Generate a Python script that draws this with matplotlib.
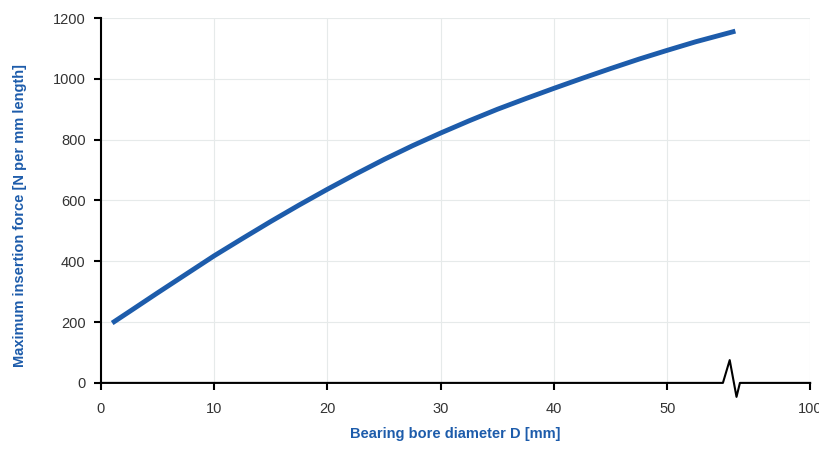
import matplotlib
matplotlib.use('Agg')
from matplotlib import pyplot as plt

# values
diameter = [1, 2.5, 5, 7.5, 10, 12.5, 15, 17.5, 20, 22.5, 25, 27.5, 30,
            32.5, 35, 37.5, 40, 42.5, 45, 47.5, 50, 52.5, 56]
force = [197, 234, 296, 357, 418, 475, 531, 585, 637, 687, 735, 780, 822,
         862, 900, 935, 969, 1002, 1034, 1065, 1094, 1122, 1157]

x_ticks = [0, 10, 20, 30, 40, 50, 62.6]
x_labels = ['0', '10', '20', '30', '40', '50', '100']
y_ticks = [0, 200, 400, 600, 800, 1000, 1200]

blue = '#1d5cab'
plt.rcParams['font.family'] = ['Liberation Sans', 'DejaVu Sans']

fig = plt.figure(figsize=(8.2, 4.51), dpi=100)
ax = fig.add_axes([0.123, 0.151, 0.865, 0.809])

ax.plot(diameter, force, c=blue, lw=3.5, solid_capstyle='butt', zorder=3)

ax.set_xlim(0, 62.6)
ax.set_ylim(0, 1200)
ax.set_xticks(x_ticks)
ax.set_xticklabels(x_labels)
ax.set_yticks(y_ticks)
ax.grid(True, color='#e6eaea', lw=0.8)
ax.set_axisbelow(True)

for s in ['top', 'right', 'bottom']:
    ax.spines[s].set_visible(False)
ax.spines['left'].set_linewidth(1.5)
ax.tick_params(axis='both', direction='out', length=5, width=1.5,
               labelsize=10.5, labelcolor='#333333')
ax.tick_params(axis='x', pad=9)
ax.tick_params(axis='y', pad=6)

# x axis line with the break mark
ax.plot([0, 54.9, 55.5, 56.1, 56.4, 62.6], [0, 0, 75, -46, 0, 0],
        c='black', lw=1.5, clip_on=False, zorder=4)

ax.set_xlabel('Bearing bore diameter D [mm]', color=blue, fontsize=10.5,
              fontweight='bold', labelpad=8)
ax.set_ylabel('Maximum insertion force [N per mm length]', color=blue,
              fontsize=10.5, fontweight='bold')
ax.yaxis.set_label_coords(-0.104, 0.46)

fig.savefig('out.png', dpi=100)
